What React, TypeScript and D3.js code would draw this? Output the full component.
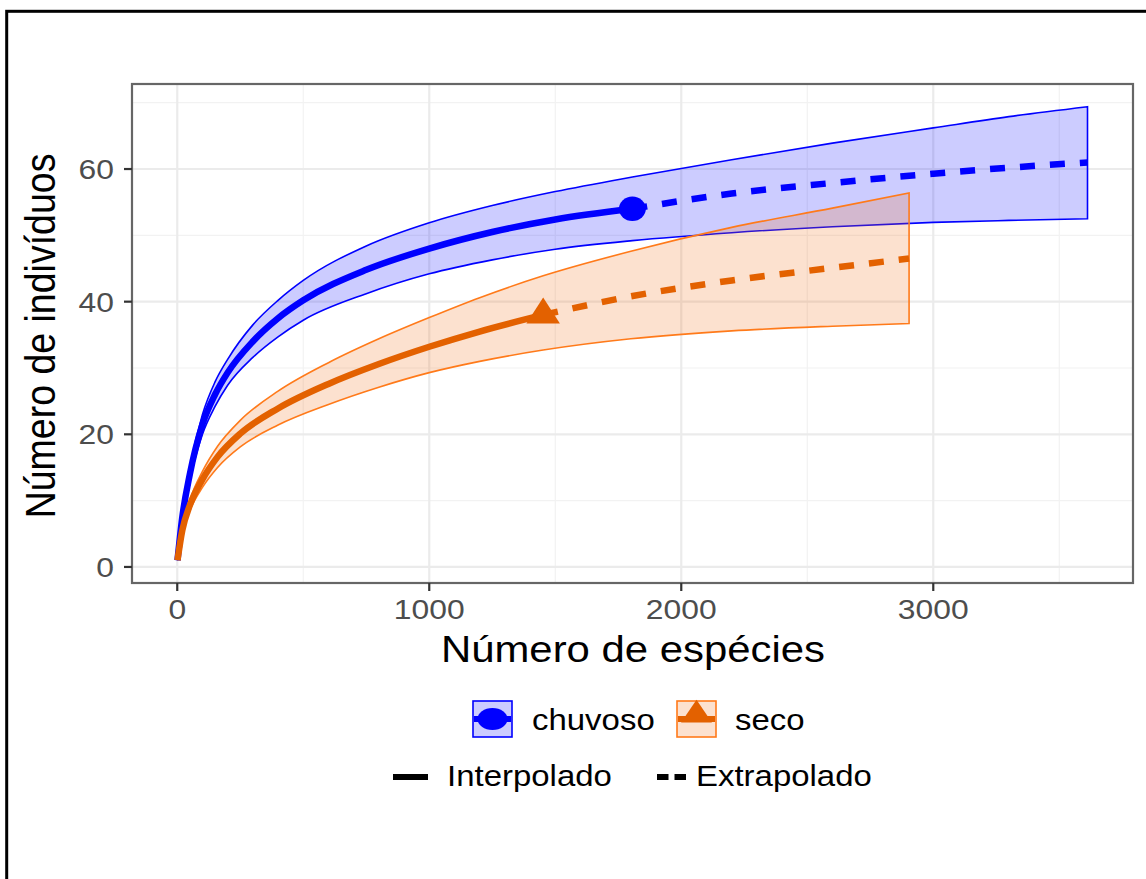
import React from "react";
import * as d3 from "d3";

// rarefaction / extrapolation curves
const chuvosoInterpX = [1, 20, 50, 100, 150, 200, 300, 400, 500, 750, 1000, 1250, 1500, 1806];
const chuvosoInterpY = [1, 7.5, 14, 21.5, 26, 29.3, 34, 37.5, 40.2, 44.8, 48, 50.5, 52.4, 54];
const chuvosoInterpLo = [1, 7, 13, 20, 24.2, 27.4, 31.6, 34.7, 37.2, 41.2, 44.2, 46.3, 47.9, 49.2];
const chuvosoInterpHi = [1, 8, 15, 23, 27.9, 31.3, 36.5, 40.2, 43.2, 48.4, 51.9, 54.5, 56.6, 58.8];
const chuvosoExtrapX = [1806, 2200, 2600, 3000, 3300, 3612];
const chuvosoExtrapY = [54, 56.3, 57.9, 59.3, 60.2, 61];
const chuvosoExtrapLo = [49.2, 50.4, 51.3, 51.95, 52.25, 52.5];
const chuvosoExtrapHi = [58.8, 61.4, 63.9, 66.2, 67.9, 69.4];

const secoInterpX = [1, 20, 50, 100, 160, 250, 400, 600, 800, 1000, 1200, 1452];
const secoInterpY = [1, 5.5, 9.3, 13.2, 16.6, 20.1, 23.9, 27.6, 30.6, 33.2, 35.5, 38];
const secoInterpLo = [1, 5, 8.5, 12, 15, 18.1, 21.4, 24.5, 27.1, 29.3, 31, 32.7];
const secoInterpHi = [1, 6, 10.1, 14.4, 18.2, 22.1, 26.5, 30.8, 34.4, 37.6, 40.6, 43.9];
const secoExtrapX = [1452, 1800, 2200, 2600, 2904];
const secoExtrapY = [38, 40.8, 43.2, 45.1, 46.5];
const secoExtrapLo = [32.7, 34.4, 35.6, 36.3, 36.7];
const secoExtrapHi = [43.9, 47.6, 51.2, 54.1, 56.4];

const xTicks = [0, 1000, 2000, 3000];
const xMinor = [500, 1500, 2500, 3500];
const yTicks = [0, 20, 40, 60];
const yMinor = [10, 30, 50, 70];

const sx = 1.117; // the reference is stretched horizontally
const font = "'Liberation Sans', Arial, Helvetica, sans-serif";

type P = { x: number; y: number; lo: number; hi: number };
const zip = (xs: number[], ys: number[], lo: number[], hi: number[]): P[] =>
  xs.map((x, i) => ({ x, y: ys[i], lo: lo[i], hi: hi[i] }));

const series = [
  {
    name: "chuvoso",
    line: "#0000FF",
    edge: "#0000FF",
    fill: "#0000FF",
    marker: "circle",
    interp: zip(chuvosoInterpX, chuvosoInterpY, chuvosoInterpLo, chuvosoInterpHi),
    extrap: zip(chuvosoExtrapX, chuvosoExtrapY, chuvosoExtrapLo, chuvosoExtrapHi),
  },
  {
    name: "seco",
    line: "#E36100",
    edge: "#FF7A1A",
    fill: "#EE6A10",
    marker: "triangle",
    interp: zip(secoInterpX, secoInterpY, secoInterpLo, secoInterpHi),
    extrap: zip(secoExtrapX, secoExtrapY, secoExtrapLo, secoExtrapHi),
  },
];

function Txt(props: { x: number; y: number; size: number; anchor?: string; fill?: string; rotate?: boolean; children: string }) {
  const { x, y, size, anchor = "start", fill = "#000", rotate = false } = props;
  return (
    <text
      transform={`translate(${x},${y}) scale(${sx},1)${rotate ? " rotate(-90)" : ""}`}
      fontSize={size}
      fontFamily={font}
      textAnchor={anchor}
      fill={fill}
    >
      {props.children}
    </text>
  );
}

export default function App() {
  const panel = { left: 132, top: 84, right: 1133, bottom: 583 };

  const allX = series.flatMap((s) => [...s.interp, ...s.extrap].map((d) => d.x));
  const allY = series.flatMap((s) => [...s.interp, ...s.extrap].flatMap((d) => [d.lo, d.hi]));
  const [x0, x1] = d3.extent(allX) as [number, number];
  const [y0, y1] = d3.extent(allY) as [number, number];
  const ex = (x1 - x0) * 0.05;
  const ey = (y1 - y0) * 0.05;

  const x = d3.scaleLinear().domain([x0 - ex, x1 + ex]).range([panel.left, panel.right]);
  const y = d3.scaleLinear().domain([y0 - ey, y1 + ey]).range([panel.bottom, panel.top]);

  const line = d3.line<P>().x((d) => x(d.x)).y((d) => y(d.y)).curve(d3.curveMonotoneX);
  const band = d3
    .area<P>()
    .x((d) => x(d.x))
    .y0((d) => y(d.lo))
    .y1((d) => y(d.hi))
    .curve(d3.curveMonotoneX);

  const tri = d3.symbol(d3.symbolTriangle, 390)() as string;
  const triKey = d3.symbol(d3.symbolTriangle, 300)() as string;

  return (
    <div style={{ position: "fixed", left: 0, top: 0 }}>
      <svg width={1146} height={879} style={{ display: "block", background: "#fff" }}>
        <rect x={6.7} y={11.3} width={1300} height={1000} fill="none" stroke="#000" strokeWidth={3} />

        {/* grid */}
        <rect x={panel.left} y={panel.top} width={panel.right - panel.left} height={panel.bottom - panel.top} fill="#fff" />
        {xMinor.map((t) => (
          <line key={"xm" + t} x1={x(t)} x2={x(t)} y1={panel.top} y2={panel.bottom} stroke="#F2F2F2" strokeWidth={1.2} />
        ))}
        {yMinor.map((t) => (
          <line key={"ym" + t} x1={panel.left} x2={panel.right} y1={y(t)} y2={y(t)} stroke="#F2F2F2" strokeWidth={1.2} />
        ))}
        {xTicks.map((t) => (
          <line key={"xg" + t} x1={x(t)} x2={x(t)} y1={panel.top} y2={panel.bottom} stroke="#EBEBEB" strokeWidth={2.2} />
        ))}
        {yTicks.map((t) => (
          <line key={"yg" + t} x1={panel.left} x2={panel.right} y1={y(t)} y2={y(t)} stroke="#EBEBEB" strokeWidth={2.2} />
        ))}

        {/* ribbons */}
        {series.map((s) => (
          <path
            key={"band" + s.name}
            d={band([...s.interp, ...s.extrap.slice(1)]) as string}
            fill={s.fill}
            fillOpacity={0.2}
            stroke={s.edge}
            strokeWidth={1.6}
          />
        ))}

        {/* curves */}
        {series.map((s) => (
          <g key={"line" + s.name}>
            <path d={line(s.interp) as string} fill="none" stroke={s.line} strokeWidth={6.5} />
            <path d={line(s.extrap) as string} fill="none" stroke={s.line} strokeWidth={6.5} strokeDasharray="15 15" />
          </g>
        ))}

        {/* observed points */}
        {series.map((s) => {
          const p = s.interp[s.interp.length - 1];
          return s.marker === "circle" ? (
            <ellipse key={"pt" + s.name} cx={x(p.x)} cy={y(p.y)} rx={13.5} ry={12.2} fill={s.line} />
          ) : (
            <path key={"pt" + s.name} d={tri} transform={`translate(${x(p.x)},${y(p.y)}) scale(${sx},1)`} fill={s.line} />
          );
        })}

        <rect
          x={panel.left}
          y={panel.top}
          width={panel.right - panel.left}
          height={panel.bottom - panel.top}
          fill="none"
          stroke="#666"
          strokeWidth={2.2}
        />

        {/* axes */}
        {xTicks.map((t) => (
          <g key={"xt" + t}>
            <line x1={x(t)} x2={x(t)} y1={panel.bottom} y2={panel.bottom + 8} stroke="#333" strokeWidth={2.2} />
            <Txt x={x(t)} y={619} size={28.5} anchor="middle" fill="#4D4D4D">
              {String(t)}
            </Txt>
          </g>
        ))}
        {yTicks.map((t) => (
          <g key={"yt" + t}>
            <line x1={panel.left - 8} x2={panel.left} y1={y(t)} y2={y(t)} stroke="#333" strokeWidth={2.2} />
            <Txt x={114} y={y(t) + 10} size={28.5} anchor="end" fill="#4D4D4D">
              {String(t)}
            </Txt>
          </g>
        ))}
        <Txt x={633} y={662} size={37.5} anchor="middle">
          Número de espécies
        </Txt>
        <Txt x={55} y={336} size={37.5} anchor="middle" rotate>
          Número de indivíduos
        </Txt>

        {/* legend: series */}
        {series.map((s, i) => {
          const bx = [473, 677][i];
          const tx = [532, 735][i];
          const cy = 719;
          return (
            <g key={"leg" + s.name}>
              <rect x={bx} y={701} width={39} height={36} fill={s.fill} fillOpacity={0.2} stroke={s.edge} strokeWidth={1.6} />
              <line x1={bx + 1} x2={bx + 38} y1={cy} y2={cy} stroke={s.line} strokeWidth={6} />
              {s.marker === "circle" ? (
                <ellipse cx={bx + 19.5} cy={cy} rx={15} ry={11} fill={s.line} />
              ) : (
                <path d={triKey} transform={`translate(${bx + 19.5},${cy - 4}) scale(${sx * 1.05},1)`} fill={s.line} />
              )}
              <Txt x={tx} y={730} size={29.5}>
                {s.name}
              </Txt>
            </g>
          );
        })}

        {/* legend: method */}
        <line x1={393} x2={428} y1={777} y2={777} stroke="#000" strokeWidth={6} />
        <Txt x={447} y={786} size={29.5}>
          Interpolado
        </Txt>
        <line x1={657} x2={686} y1={777} y2={777} stroke="#000" strokeWidth={6} strokeDasharray="11.5 6" />
        <Txt x={696} y={786} size={29.5}>
          Extrapolado
        </Txt>
      </svg>
    </div>
  );
}
